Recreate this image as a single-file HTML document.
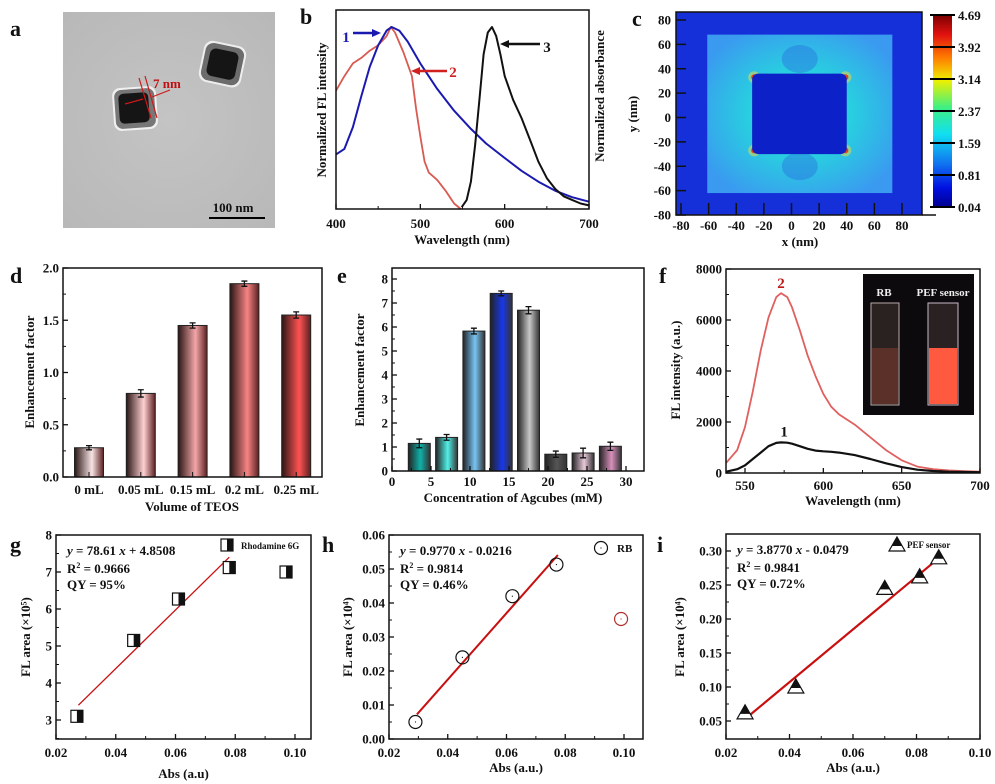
<!DOCTYPE html>
<html><head><meta charset="utf-8"><style>
html,body{margin:0;padding:0;background:#fff;}
svg{display:block;font-family:"Liberation Serif",serif;font-weight:bold;}
</style></head><body>
<svg id="fig" width="995" height="784" viewBox="0 0 995 784" xmlns="http://www.w3.org/2000/svg">
<defs>
<radialGradient id="fieldGrad" cx="0.5" cy="0.5" r="0.6">
<stop offset="0" stop-color="#2fe8c8"/><stop offset="0.45" stop-color="#28d0e0"/><stop offset="1" stop-color="#3a9af0"/>
</radialGradient>
<linearGradient id="cbar" x1="0" y1="0" x2="0" y2="1">
<stop offset="0" stop-color="#7a0000"/><stop offset="0.1" stop-color="#e01010"/><stop offset="0.22" stop-color="#ff7a00"/><stop offset="0.34" stop-color="#f0f000"/><stop offset="0.48" stop-color="#40f080"/><stop offset="0.62" stop-color="#10e0f0"/><stop offset="0.78" stop-color="#1070f0"/><stop offset="0.9" stop-color="#0010e0"/><stop offset="1" stop-color="#000090"/>
</linearGradient>
<radialGradient id="tem" cx="0.5" cy="0.5" r="0.7"><stop offset="0" stop-color="#c4c4c4"/><stop offset="1" stop-color="#b8b8b8"/></radialGradient>
</defs>
<g id="root"></g>
</svg>
<script>
// ---------- data ----------
const bWlBlue=[400,410,420,430,440,450,460,466,475,485,500,520,540,560,578,600,620,640,660,680,700];
const bBlue=[0.30,0.33,0.45,0.62,0.78,0.90,0.98,1.0,0.98,0.92,0.80,0.66,0.54,0.44,0.36,0.28,0.21,0.15,0.10,0.065,0.04];
const bWlRed=[400,410,420,430,440,450,460,465,470,480,490,495,500,505,510,520,530,540,548];
const bRed=[0.65,0.73,0.80,0.83,0.87,0.90,0.95,1.0,0.97,0.86,0.73,0.55,0.40,0.26,0.20,0.16,0.10,0.03,0.0];
const bWlBlack=[549,555,560,565,570,575,580,585,590,595,600,610,620,630,640,650,660,670,680,690,700];
const bBlack=[0.01,0.05,0.15,0.35,0.6,0.85,0.97,1.0,0.95,0.85,0.73,0.60,0.50,0.38,0.26,0.17,0.11,0.07,0.05,0.03,0.02];
const cXTicks=[-80,-60,-40,-20,0,20,40,60,80];
const cYTicks=[80,60,40,20,0,-20,-40,-60,-80];
const cOuterBox=[-61,73,-62,68];
const cInnerBox=[-28.5,40,-30,36];
const cHotX=[-27,39];
const cHotY=[33,-27];
const cBarLabels=["4.69","3.92","3.14","2.37","1.59","0.81","0.04"];
const dCats=["0 mL","0.05 mL","0.15 mL","0.2 mL","0.25 mL"];
const dVals=[0.28,0.80,1.45,1.85,1.55];
const dErr=[0.02,0.035,0.025,0.025,0.03];
const dColors=["#f8e4e4","#ffd0d2","#f4a6a8","#f88484","#ff5252"];
const eX=[3.5,7,10.5,14,17.5,21,24.5,28];
const eVals=[1.15,1.4,5.83,7.4,6.7,0.7,0.75,1.03];
const eErr=[0.18,0.12,0.12,0.1,0.15,0.13,0.2,0.17];
const eColors=["#10b0a8","#50f0e8","#78c4f4","#1838e8","#c8c8c8","#555","#e8c8d8","#d890bc"];
const fWl=[538,545,550,555,560,565,570,573,577,580,585,590,595,600,605,610,620,630,640,650,660,670,680,690,700];
const fRed=[400,900,1800,3200,4800,6100,6900,7050,6900,6500,5600,4600,3800,3100,2600,2300,1900,1400,900,500,250,150,100,70,50];
const fBlack=[50,150,300,550,800,1050,1180,1200,1190,1150,1050,950,880,850,830,800,700,550,380,230,130,80,50,40,30];
const gX=[0.027,0.046,0.061,0.078,0.097];
const gY=[3.1,5.15,6.27,7.12,7.0];
const gLineX=[0.0275,0.078];
const gLineY=[3.4,7.4];
const hX=[0.029,0.045,0.062,0.077,0.099];
const hY=[0.005,0.024,0.042,0.0513,0.0353];
const hFit=[0.9770,-0.0216];
const iX=[0.026,0.042,0.070,0.081,0.087];
const iY=[0.062,0.10,0.245,0.262,0.29];
const iFit=[3.8770,-0.0479];
const absTicks=["0.02","0.04","0.06","0.08","0.10"];

// ---------- helpers ----------
const NS="http://www.w3.org/2000/svg";
const root=document.getElementById('root');
function mk(tag,attrs,name,parent){
  const e=document.createElementNS(NS,tag);
  for(const k in attrs)e.setAttribute(k,attrs[k]);
  
  
  (parent||root).appendChild(e);return e;
}
function txt(x,y,s,name,o){o=o||{};const t=mk('text',Object.assign({x:x,y:y,'font-size':o.fs||13,'text-anchor':o.a||'middle',fill:o.fill||'#111'},o.extra||{}),name,o.p);t.textContent=s;return t;}
function lin(d0,d1,r0,r1){return v=>r0+(v-d0)*(r1-r0)/(d1-d0);}
function box(x0,y0,x1,y1,name){mk('rect',{x:x0,y:y0,width:x1-x0,height:y1-y0,fill:'none',stroke:'#111','stroke-width':1.5},name);}
function path(xs,ys,sx,sy,color,name,w){let d='';xs.forEach((v,i)=>{d+=(i?'L':'M')+sx(v).toFixed(1)+','+sy(ys[i]).toFixed(1);});return mk('path',{d:d,fill:'none',stroke:color,'stroke-width':w||2,'stroke-linejoin':'round'},name);}
function yTicks(vals,labels,sy,x0,name,minor){vals.forEach((v,i)=>{mk('line',{x1:x0,x2:x0+5,y1:sy(v),y2:sy(v),stroke:'#111','stroke-width':1.3},name+'-tick');txt(x0-4,sy(v)+4.5,labels[i],name+'-label',{a:'end'});});
  if(minor)minor.forEach(v=>mk('line',{x1:x0,x2:x0+3,y1:sy(v),y2:sy(v),stroke:'#111','stroke-width':1},name+'-minor-tick'));}
function xTicks(vals,labels,sx,y0,name,ly,minor){vals.forEach((v,i)=>{mk('line',{x1:sx(v),x2:sx(v),y1:y0,y2:y0-5,stroke:'#111','stroke-width':1.3},name+'-tick');txt(sx(v),ly,labels[i],name+'-label');});
  if(minor)minor.forEach(v=>mk('line',{x1:sx(v),x2:sx(v),y1:y0,y2:y0-3,stroke:'#111','stroke-width':1},name+'-minor-tick'));}
function rotTitle(x,y,s,name){txt(x,y,s,name,{fs:13,extra:{transform:'rotate(-90 '+x+' '+y+')'}});}
function panelLabel(x,y,s){txt(x,y,s,'panel-label-'+s,{fs:22,a:'start'});}

// ---------- panel a (TEM image) ----------
panelLabel(10,36,'a');
mk('rect',{x:63,y:12,width:212,height:216,fill:'url(#tem)'},'tem-image');
mk('rect',{x:113,y:87,width:44,height:43,rx:8,fill:'#f0f0f0',transform:'rotate(-4 135 108)'},'cube1-shell-halo');
mk('rect',{x:115,y:89,width:40,height:39,rx:7,fill:'#777',transform:'rotate(-4 135 108)'},'cube1-shell');
mk('rect',{x:119,y:93,width:30,height:30,rx:5,fill:'#151515',transform:'rotate(-4 134 108)'},'cube1-core');
mk('rect',{x:201,y:43,width:43,height:42,rx:9,fill:'#eee',transform:'rotate(12 222 64)'},'cube2-shell-halo');
mk('rect',{x:203,y:45,width:39,height:38,rx:8,fill:'#6c6c6c',transform:'rotate(12 222 64)'},'cube2-shell');
mk('rect',{x:208,y:50,width:29,height:28,rx:6,fill:'#151515',transform:'rotate(12 222 64)'},'cube2-core');
mk('line',{x1:139,y1:78,x2:151,y2:118,stroke:'#d01818','stroke-width':1.2},'shell-mark-1');
mk('line',{x1:145,y1:76,x2:157,y2:118,stroke:'#d01818','stroke-width':1.2},'shell-mark-2');
mk('line',{x1:125,y1:104,x2:143,y2:99,stroke:'#d01818','stroke-width':1.2},'shell-arrow-in');
mk('line',{x1:170,y1:90,x2:152,y2:97,stroke:'#d01818','stroke-width':1.2},'shell-arrow-out');
txt(153,88,'7 nm','shell-thickness-label',{fs:13,a:'start',fill:'#c01010'});
txt(233,212,'100 nm','scale-bar-label',{fs:13});
mk('line',{x1:209,y1:218,x2:265,y2:218,stroke:'#000','stroke-width':2},'scale-bar');

// ---------- panel b ----------
panelLabel(300,24,'b');
(function(){
  const sx=lin(400,700,336,589), sy=lin(0,1,209,27);
  path(bWlRed,bRed,sx,sy,'#d85a50','em-spectrum-2',1.8);
  path(bWlBlue,bBlue,sx,sy,'#1a1ab0','abs-spectrum-1',2);
  path(bWlBlack,bBlack,sx,sy,'#111','em-spectrum-3',2);
  box(336,10,589,209,'plot-frame-b');
  xTicks([400,500,600,700],['400','500','600','700'],sx,209,'x-axis-b',228,[450,550,650]);
  txt(462,244,'Wavelength (nm)','x-axis-title-b');
  rotTitle(326,110,'Normalized FL intensity','y-axis-title-left-b');
  rotTitle(604,96,'Normalized absorbance','y-axis-title-right-b');
  txt(346,42,'1','curve-label-1',{fs:15,fill:'#1a1ab0'});
  mk('line',{x1:353,y1:33,x2:374,y2:33,stroke:'#1a1ab0','stroke-width':2.5},'arrow-1');
  mk('path',{d:'M381,33 L372,29 L372,37Z',fill:'#1a1ab0'},'arrowhead-1');
  txt(453,77,'2','curve-label-2',{fs:15,fill:'#d02020'});
  mk('line',{x1:447,y1:71,x2:418,y2:71,stroke:'#d02020','stroke-width':2.5},'arrow-2');
  mk('path',{d:'M411,71 L420,67 L420,75Z',fill:'#d02020'},'arrowhead-2');
  txt(547,52,'3','curve-label-3',{fs:15});
  mk('line',{x1:540,y1:44,x2:507,y2:44,stroke:'#111','stroke-width':2.5},'arrow-3');
  mk('path',{d:'M500,44 L509,40 L509,48Z',fill:'#111'},'arrowhead-3');
})();

// ---------- panel c ----------
panelLabel(632,26,'c');
(function(){
  const sx=lin(-80,80,681,902), sy=lin(-80,80,215,20);
  mk('rect',{x:676,y:12,width:246,height:203,fill:'#1530d8'},'field-background');
  mk('rect',{x:sx(cOuterBox[0]),y:sy(cOuterBox[3]),width:sx(cOuterBox[1])-sx(cOuterBox[0]),height:sy(cOuterBox[2])-sy(cOuterBox[3]),fill:'url(#fieldGrad)'},'field-shell-region');
  mk('ellipse',{cx:sx(6),cy:sy(48),rx:18,ry:14,fill:'#2a70e0',opacity:0.45},'field-node-top');
  mk('ellipse',{cx:sx(6),cy:sy(-40),rx:18,ry:14,fill:'#2a70e0',opacity:0.45},'field-node-bottom');
  cHotX.forEach(hx=>cHotY.forEach(hy=>{
    mk('circle',{cx:sx(hx),cy:sy(hy),r:6,fill:'#f0e040',opacity:0.5},'hotspot-glow');
    mk('circle',{cx:sx(hx),cy:sy(hy),r:3,fill:'#e84010'},'hotspot');
  }));
  mk('rect',{x:sx(cInnerBox[0]),y:sy(cInnerBox[3]),width:sx(cInnerBox[1])-sx(cInnerBox[0]),height:sy(cInnerBox[2])-sy(cInnerBox[3]),rx:6,fill:'#0c22c8'},'cube-core-region');
  box(676,12,922,215,'plot-frame-c');
  cXTicks.forEach(v=>{mk('line',{x1:sx(v),x2:sx(v),y1:215,y2:203,stroke:'#111','stroke-width':1.5},'x-tick-c');txt(sx(v),230,String(v),'x-tick-label-c');});
  mk('line',{x1:922,x2:936,y1:215,y2:215,stroke:'#111','stroke-width':1.5},'x-axis-extension-c');
  cYTicks.forEach(v=>{mk('line',{x1:676,x2:686,y1:sy(v),y2:sy(v),stroke:'#111','stroke-width':1.5},'y-tick-c');txt(671,sy(v)+4.5,String(v),'y-tick-label-c',{a:'end'});});
  txt(800,246,'x (nm)','x-axis-title-c');
  rotTitle(637,114,'y (nm)','y-axis-title-c');
  mk('rect',{x:933,y:15,width:19,height:192,fill:'url(#cbar)'},'colorbar');
  cBarLabels.forEach((l,i)=>{const y=15+i*32;mk('line',{x1:930,x2:955,y1:y,y2:y,stroke:'#000','stroke-width':2},'colorbar-tick');txt(958,y+5,l,'colorbar-label',{a:'start'});});
})();

// ---------- panel d ----------
panelLabel(10,283,'d');
(function(){
  const sy=lin(0,2,477,268), x0=63, x1=322, bw=29;
  const sx=i=>89+i*51.8;
  const defs=document.querySelector('defs');
  dVals.forEach((v,i)=>{
    const g=mk('linearGradient',{id:'dg'+i,x1:0,x2:1,y1:0,y2:0},'bar-gradient',defs);
    mk('stop',{offset:0,'stop-color':'#2a1515'},'stop',g);mk('stop',{offset:0.6,'stop-color':dColors[i]},'stop',g);mk('stop',{offset:1,'stop-color':'#5a2020'},'stop',g);
    mk('rect',{x:sx(i)-bw/2,y:sy(v),width:bw,height:sy(0)-sy(v),fill:'url(#dg'+i+')',stroke:'#222','stroke-width':1},'bar-'+dCats[i].replace(/ /g,''));
    mk('path',{d:`M${sx(i)-3},${sy(v+dErr[i])}h6M${sx(i)},${sy(v+dErr[i])}V${sy(v-dErr[i])}M${sx(i)-3},${sy(v-dErr[i])}h6`,stroke:'#111','stroke-width':1.3,fill:'none'},'error-bar');
    mk('line',{x1:sx(i),x2:sx(i),y1:477,y2:472,stroke:'#111'},'x-tick-d');
    txt(sx(i),494,dCats[i],'x-tick-label-d');
  });
  box(x0,268,x1,477,'plot-frame-d');
  yTicks([0,0.5,1,1.5,2],['0.0','0.5','1.0','1.5','2.0'],sy,x0,'y-axis-d',[0.25,0.75,1.25,1.75]);
  txt(192,511,'Volume of TEOS','x-axis-title-d');
  rotTitle(34,372,'Enhancement factor','y-axis-title-d');
})();

// ---------- panel e ----------
panelLabel(337,283,'e');
(function(){
  const sx=lin(0,30,392,626), sy=lin(0,8,471,279), bw=22;
  const defs=document.querySelector('defs');
  eVals.forEach((v,i)=>{
    const g=mk('linearGradient',{id:'eg'+i,x1:0,x2:1,y1:0,y2:0},'bar-gradient',defs);
    mk('stop',{offset:0,'stop-color':'#222'},'stop',g);mk('stop',{offset:0.55,'stop-color':eColors[i]},'stop',g);mk('stop',{offset:1,'stop-color':'#333'},'stop',g);
    mk('rect',{x:sx(eX[i])-bw/2,y:sy(v),width:bw,height:sy(0)-sy(v),fill:'url(#eg'+i+')',stroke:'#222','stroke-width':1},'bar-'+eX[i]+'mM');
    mk('path',{d:`M${sx(eX[i])-3},${sy(v+eErr[i])}h6M${sx(eX[i])},${sy(v+eErr[i])}V${sy(v-eErr[i])}M${sx(eX[i])-3},${sy(v-eErr[i])}h6`,stroke:'#111','stroke-width':1.3,fill:'none'},'error-bar');
  });
  box(392,268,644,471,'plot-frame-e');
  xTicks([0,5,10,15,20,25,30],['0','5','10','15','20','25','30'],sx,471,'x-axis-e',486,[2.5,7.5,12.5,17.5,22.5,27.5]);
  yTicks([0,1,2,3,4,5,6,7,8],['0','1','2','3','4','5','6','7','8'],sy,392,'y-axis-e',[0.5,1.5,2.5,3.5,4.5,5.5,6.5,7.5]);
  txt(513,502,'Concentration of Agcubes (mM)','x-axis-title-e');
  rotTitle(364,370,'Enhancement factor','y-axis-title-e');
})();

// ---------- panel f ----------
panelLabel(659,283,'f');
(function(){
  const sx=lin(550,700,745,980), sy=lin(0,8000,473,269);
  path(fWl,fRed,sx,sy,'#e06060','fl-curve-2-pef',1.8);
  path(fWl,fBlack,sx,sy,'#111','fl-curve-1-rb',2.2);
  box(726,269,980,473,'plot-frame-f');
  xTicks([550,600,650,700],['550','600','650','700'],sx,473,'x-axis-f',490,[575,625,675]);
  yTicks([0,2000,4000,6000,8000],['0','2000','4000','6000','8000'],sy,726,'y-axis-f',[1000,3000,5000,7000]);
  txt(853,505,'Wavelength (nm)','x-axis-title-f');
  rotTitle(680,370,'FL intensity (a.u.)','y-axis-title-f');
  txt(sx(573),sy(7050)-5,'2','curve-label-2-f',{fs:15,fill:'#c01818'});
  txt(sx(575),sy(1200)-6,'1','curve-label-1-f',{fs:15});
  mk('rect',{x:863,y:274,width:111,height:141,fill:'#0c0a0c'},'inset-photo');
  mk('rect',{x:871,y:303,width:28,height:102,fill:'#2a2220',stroke:'#b8a8a8','stroke-width':1},'cuvette-rb');
  mk('rect',{x:872,y:348,width:26,height:56,fill:'#5a3028'},'cuvette-rb-liquid');
  mk('rect',{x:928,y:303,width:30,height:102,fill:'#2a2222',stroke:'#c8b8c8','stroke-width':1},'cuvette-pef');
  mk('rect',{x:929,y:348,width:28,height:56,fill:'#ff5a40'},'cuvette-pef-liquid');
  txt(884,296,'RB','inset-label-rb',{fs:11,fill:'#eee'});
  txt(943,296,'PEF sensor','inset-label-pef',{fs:11,fill:'#eee'});
})();

// ---------- scatter panels ----------
function scatter(cfg){
  const sx=lin(0.02,0.10,cfg.x0,cfg.xT), sy=lin(cfg.yv0,cfg.yv1,cfg.yp0,cfg.yp1);
  box(cfg.x0,cfg.top,cfg.x1,cfg.bot,'plot-frame-'+cfg.id);
  xTicks([0.02,0.04,0.06,0.08,0.10],absTicks,sx,cfg.bot,'x-axis-'+cfg.id,757,[0.03,0.05,0.07,0.09]);
  yTicks(cfg.ticks,cfg.tickLabels,sy,cfg.x0,'y-axis-'+cfg.id,cfg.minor);
  mk('line',{x1:sx(cfg.lineX[0]),y1:sy(cfg.lineY[0]),x2:sx(cfg.lineX[1]),y2:sy(cfg.lineY[1]),stroke:'#c81010','stroke-width':cfg.lw},'fit-line-'+cfg.id);
  cfg.xs.forEach((v,i)=>cfg.marker(sx(v),sy(cfg.ys[i]),i));
  txt((cfg.x0+cfg.x1)/2,cfg.titleY,cfg.xTitle,'x-axis-title-'+cfg.id);
  rotTitle(cfg.yTitleX,637,cfg.yTitle,'y-axis-title-'+cfg.id);
  const ax=cfg.x0+11;
  const eq=mk('text',{x:ax,y:cfg.top+20,'font-size':13,fill:'#111'},'fit-equation-'+cfg.id);
  eq.innerHTML='<tspan font-style="italic">y</tspan> = '+cfg.eq[0]+' <tspan font-style="italic">x</tspan> '+cfg.eq[1];
  const r2=mk('text',{x:ax,y:cfg.top+38,'font-size':13,fill:'#111'},'r-squared-'+cfg.id);
  r2.innerHTML='R<tspan font-size="8" dy="-5">2</tspan><tspan dy="5"> = '+cfg.r2+'</tspan>';
  txt(ax,cfg.top+54,'QY = '+cfg.qy,'quantum-yield-'+cfg.id,{a:'start'});
}
function squareMarker(x,y,name){mk('rect',{x:x-6,y:y-6,width:12,height:12,fill:'#fff',stroke:'#111','stroke-width':1.2},name);mk('rect',{x:x,y:y-6,width:6,height:12,fill:'#111'},name+'-fill');}
function circleMarker(x,y,name,c){mk('circle',{cx:x,cy:y,r:6.5,fill:'none',stroke:c,'stroke-width':1.2},name);mk('circle',{cx:x,cy:y,r:0.6,fill:c},name+'-dot');}
function triMarker(x,y,name){mk('path',{d:`M${x},${y-8}L${x+8},${y+6}H${x-8}Z`,fill:'#fff',stroke:'#111','stroke-width':1.2},name);mk('path',{d:`M${x},${y-8}L${x+5},${y+1}H${x-5}Z`,fill:'#111'},name+'-fill');}

const hLineX=[0.0295,0.0775];
const hLineY=hLineX.map(x=>hFit[0]*x+hFit[1]);
const iLineX=[0.027,0.087];
const iLineY=iLineX.map(x=>iFit[0]*x+iFit[1]);

panelLabel(10,552,'g');
scatter({id:'g',x0:56,x1:311,xT:295,top:535,bot:739,yv0:3,yv1:8,yp0:720,yp1:535,ticks:[3,4,5,6,7,8],tickLabels:['3','4','5','6','7','8'],minor:[2.5,3.5,4.5,5.5,6.5,7.5],
  xs:gX,ys:gY,lineX:gLineX,lineY:gLineY,lw:1.3,marker:(x,y,i)=>squareMarker(x,y,'data-point-g-'+i),xTitle:'Abs (a.u)',titleY:778,yTitle:'FL area (×10⁵)',yTitleX:30,eq:['78.61','+ 4.8508'],r2:'0.9666',qy:'95%'});
squareMarker(227,545,'legend-marker-g');
txt(241,549,'Rhodamine 6G','legend-label-g',{fs:9,a:'start'});

panelLabel(322,552,'h');
scatter({id:'h',x0:389,x1:643,xT:624,top:535,bot:739,yv0:0,yv1:0.06,yp0:739,yp1:535,ticks:[0,0.01,0.02,0.03,0.04,0.05,0.06],tickLabels:['0.00','0.01','0.02','0.03','0.04','0.05','0.06'],minor:[0.005,0.015,0.025,0.035,0.045,0.055],
  xs:hX,ys:hY,lineX:hLineX,lineY:hLineY,lw:2,marker:(x,y,i)=>circleMarker(x,y,'data-point-h-'+i,i===4?'#b03030':'#111'),xTitle:'Abs (a.u.)',titleY:772,yTitle:'FL area (×10⁴)',yTitleX:352,eq:['0.9770','- 0.0216'],r2:'0.9814',qy:'0.46%'});
circleMarker(601,548,'legend-marker-h','#111');
txt(617,552,'RB','legend-label-h',{fs:11,a:'start'});

panelLabel(657,552,'i');
scatter({id:'i',x0:726,x1:980,xT:980,top:534,bot:739,yv0:0.05,yv1:0.30,yp0:721,yp1:551,ticks:[0.05,0.10,0.15,0.20,0.25,0.30],tickLabels:['0.05','0.10','0.15','0.20','0.25','0.30'],minor:[0.075,0.125,0.175,0.225,0.275],
  xs:iX,ys:iY,lineX:iLineX,lineY:iLineY,lw:2.2,marker:(x,y,i)=>triMarker(x,y,'data-point-i-'+i),xTitle:'Abs (a.u.)',titleY:772,yTitle:'FL area (×10⁴)',yTitleX:684,eq:['3.8770','- 0.0479'],r2:'0.9841',qy:'0.72%'});
triMarker(897,545,'legend-marker-i');
txt(907,548,'PEF sensor','legend-label-i',{fs:9,a:'start'});
</script>
</body></html>
